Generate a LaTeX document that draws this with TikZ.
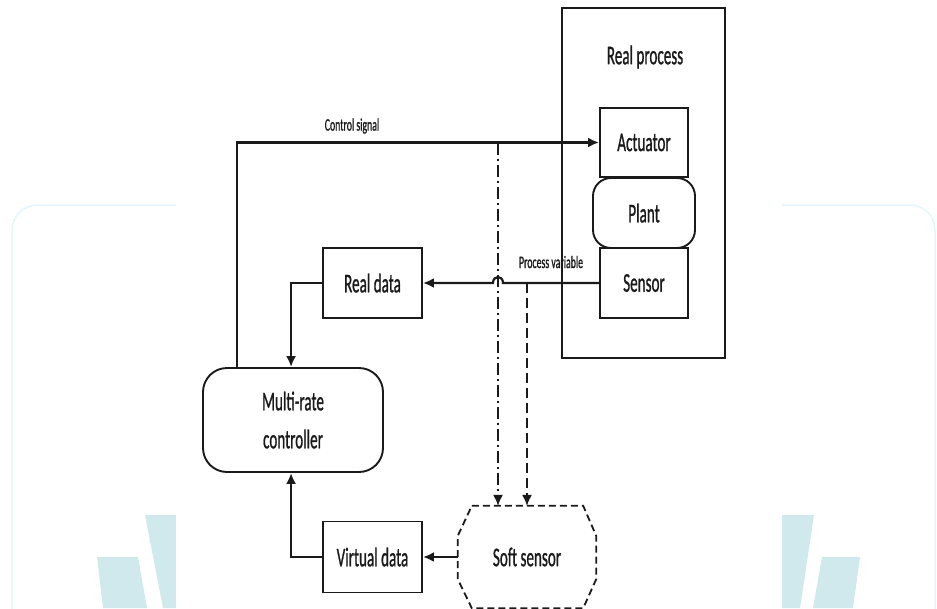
\documentclass[tikz,border=0pt]{standalone}
\usepackage{fontspec}
\setmainfont[FakeBold=1.2]{Carlito}
\usepackage{graphicx}
\usetikzlibrary{arrows.meta,calc}
\definecolor{wmline}{HTML}{E0F8FA}
\definecolor{wmfill}{HTML}{CFE9EC}
\definecolor{ink}{HTML}{1A1A1A}
\newcommand{\sqz}[1]{\scalebox{0.56}[1]{#1}}
\newcommand{\bigfont}{\fontsize{27}{38}\selectfont}
\newcommand{\smfont}{\fontsize{17.5}{20}\selectfont}
\begin{document}
\begin{tikzpicture}[x=1pt,y=-1pt,
  box/.style={draw=ink, line width=1.9pt, fill=white, inner sep=0pt, text=ink, font=\bigfont},
  lbl/.style={inner sep=0pt, text=ink},
  conn/.style={draw=ink, line width=2.2pt},
  tip/.style={-{Latex[length=11pt,width=10pt]}},
  dashdot/.style={draw=ink, line width=1.5pt, dash pattern=on 12pt off 4pt on 2pt off 4pt},
  dsh/.style={draw=ink, line width=1.5pt, dash pattern=on 10pt off 5pt},
]
\useasboundingbox (0,0) rectangle (937,608);
% background watermark
\draw[wmline, line width=1.5pt, rounded corners=25pt] (12,620) -- (12,205) -- (935,205) -- (935,620);
\fill[wmfill] (145,515) -- (190,515) -- (190,608) -- (163,608) -- cycle;
\fill[wmfill] (97,557) -- (138,557) -- (147,608) -- (103,608) -- cycle;
\fill[wmfill] (770,515) -- (814,515) -- (800,608) -- (770,608) -- cycle;
\fill[wmfill] (822,557) -- (860,557) -- (853,608) -- (813,608) -- cycle;
\fill[white] (176,-5) rectangle (782,613);

% nodes
\node[box, minimum width=163pt, minimum height=350pt] (rp) at (643.5,183) {};
\node[lbl, font=\bigfont] (rpt) at (645,57) {\sqz{Real process}};
\node[box, minimum width=88pt, minimum height=69pt] (act) at (644,142.5) {\sqz{Actuator}};
\node[box, minimum width=88pt, minimum height=70pt] (sen) at (644,283) {\sqz{Sensor}};
\node[box, minimum width=102pt, minimum height=70pt, rounded corners=18pt] (pl) at (644,213) {\sqz{Plant}};
\node[box, minimum width=99pt, minimum height=70pt] (rd) at (372.5,283) {\sqz{Real data}};
\node[box, minimum width=180pt, minimum height=104pt, rounded corners=24pt, align=center] (ctrl) at (293,420) {\sqz{Multi-rate}\\\sqz{controller}};
\node[box, minimum width=99pt, minimum height=71pt] (vd) at (372.5,557) {\sqz{Virtual data}};
\node[lbl, font=\bigfont, minimum width=138pt, minimum height=102pt] (ss) at (527,557) {\sqz{Soft sensor}};
\draw[ink, line width=1.8pt, dash pattern=on 7pt off 4pt]
  ($(ss.north west)+(14,0)$) -- ($(ss.north east)+(-13,0)$) -- ($(ss.north east)+(0,30)$)
  -- ($(ss.south east)+(0,-29)$) -- ($(ss.south east)+(-13,0)$) -- ($(ss.south west)+(14,0)$)
  -- ($(ss.south west)+(0,-29)$) -- ($(ss.north west)+(0,30)$) -- cycle;

\node[lbl, font=\smfont] (cs) at (352,126) {\sqz{Control signal}};
\node[lbl, font=\smfont] (pvl) at (551,262) {\sqz{Process variable}};

% connectors
\coordinate (ctop) at ($(ctrl.north west)+(35,0)$);
\draw[conn, tip] (ctop) |- (act.west);
\coordinate (dd) at (498,142.5);
\draw[dashdot, tip] (dd) -- (dd |- ss.north);
\draw[conn, tip] (sen.west) -- (503,283) .. controls (503,275) and (493,275) .. (493,283) -- (rd.east);
\coordinate (pv) at (527,283);
\draw[dsh, tip] (pv) -- (pv |- ss.north);
\draw[conn, tip] (rd.west) -| ($(ctrl.north west)+(89,0)$);
\draw[conn, tip] (vd.west) -| ($(ctrl.south west)+(89,0)$);
\draw[conn, tip] (ss.west) -- (vd.east);
\end{tikzpicture}
\end{document}
